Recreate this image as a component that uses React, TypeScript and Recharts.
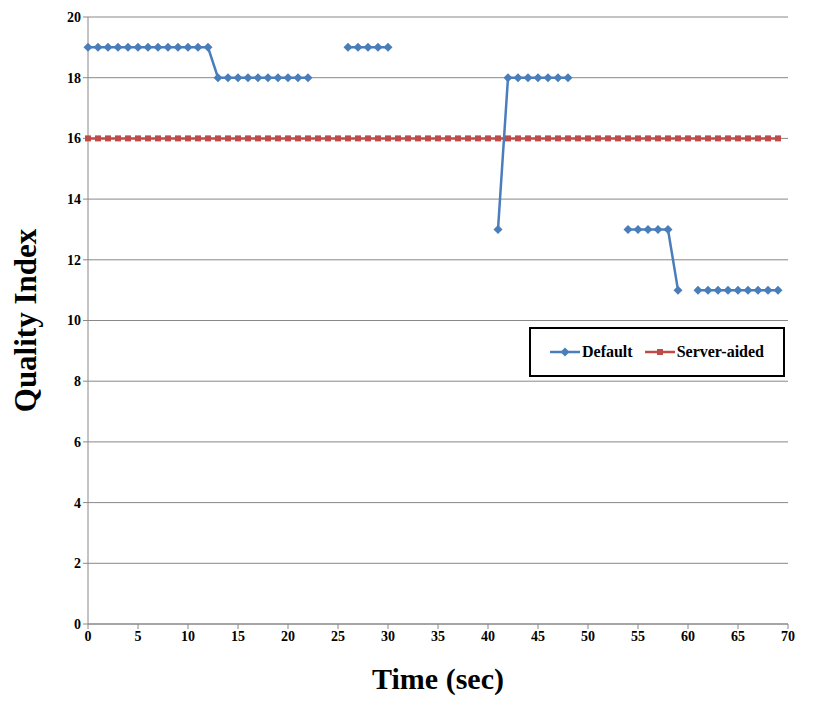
import { LineChart, Line, XAxis, YAxis, CartesianGrid } from 'recharts'

// Default series values by second (null = no sample)
const defaultValues: (number | null)[] = [
  19, 19, 19, 19, 19, 19, 19, 19, 19, 19, 19, 19, 19,
  18, 18, 18, 18, 18, 18, 18, 18, 18, 18,
  null, null, null,
  19, 19, 19, 19, 19,
  null, null, null, null, null, null, null, null, null, null,
  13, 18, 18, 18, 18, 18, 18, 18,
  null, null, null, null, null,
  13, 13, 13, 13, 13, 11,
  null,
  11, 11, 11, 11, 11, 11, 11, 11, 11,
]
const serverAidedValue = 16
const xTicks = [0, 5, 10, 15, 20, 25, 30, 35, 40, 45, 50, 55, 60, 65, 70]
const yTicks = [0, 2, 4, 6, 8, 10, 12, 14, 16, 18, 20]

const BLUE = '#4a7ebb'
const RED = '#be4b48'

const data = defaultValues.map((v, i) => ({ t: i, def: v, srv: serverAidedValue }))

const Diamond = (props: any) => {
  const { cx, cy, value } = props
  if (value == null || cx == null) return <g key={props.key} />
  return <polygon key={props.key} points={`${cx},${cy - 4.5} ${cx + 4.5},${cy} ${cx},${cy + 4.5} ${cx - 4.5},${cy}`} fill={BLUE} />
}

const Square = (props: any) => {
  const { cx, cy } = props
  return <rect key={props.key} x={cx - 3} y={cy - 3} width={6} height={6} fill={RED} />
}

const LegendBox = () => (
  <div style={{ position: 'absolute', left: 528, top: 326, boxSizing: 'border-box', border: '2px solid #000', background: '#fff', width: 256, height: 50, display: 'flex', alignItems: 'center', justifyContent: 'center', gap: 12, fontFamily: '"Liberation Serif", serif', fontWeight: 'bold', fontSize: 16 }}>
    <span style={{ display: 'flex', alignItems: 'center' }}>
      <svg width={30} height={10}><line x1={0} y1={5} x2={30} y2={5} stroke={BLUE} strokeWidth={2.5} /><polygon points="15,0.5 19.5,5 15,9.5 10.5,5" fill={BLUE} /></svg>
      <span style={{ marginLeft: 2 }}>Default</span>
    </span>
    <span style={{ display: 'flex', alignItems: 'center' }}>
      <svg width={30} height={10}><line x1={0} y1={5} x2={30} y2={5} stroke={RED} strokeWidth={2.5} /><rect x={12} y={2} width={6} height={6} fill={RED} /></svg>
      <span style={{ marginLeft: 2 }}>Server-aided</span>
    </span>
  </div>
)

export default function App() {
  const tickStyle = { fontSize: 14, fontWeight: 'bold', fill: '#000', fontFamily: '"Liberation Serif", serif' }
  return (
    <div style={{ margin: -8, width: 812, height: 710, border: '1px solid #888', background: '#fff', position: 'relative' }}>
      <LineChart width={812} height={710} data={data} margin={{ top: 16, right: 25, bottom: 46, left: 0 }}>
        <CartesianGrid vertical={false} stroke="#888" />
        <XAxis
          dataKey="t" type="number" domain={[0, 70]} ticks={xTicks}
          stroke="#888" tick={tickStyle} tickLine={{ stroke: '#888' }} tickSize={5}
          height={41}
          label={{ value: 'Time (sec)', position: 'insideBottom', offset: -24, style: { fontSize: 30, fontWeight: 'bold', fill: '#000', fontFamily: '"Liberation Serif", serif' } }}
        />
        <YAxis
          domain={[0, 20]} ticks={yTicks} width={87}
          stroke="#888" tick={tickStyle} tickLine={{ stroke: '#888' }} tickSize={5}
          label={{ value: 'Quality Index', angle: -90, position: 'insideLeft', offset: 24, style: { textAnchor: 'middle', fontSize: 31, fontWeight: 'bold', fill: '#000', fontFamily: '"Liberation Serif", serif' } }}
        />
        <Line dataKey="srv" stroke={RED} strokeWidth={2.5} dot={<Square />} isAnimationActive={false} />
        <Line dataKey="def" stroke={BLUE} strokeWidth={2.5} dot={<Diamond />} connectNulls={false} isAnimationActive={false} />
      </LineChart>
      <LegendBox />
    </div>
  )
}
